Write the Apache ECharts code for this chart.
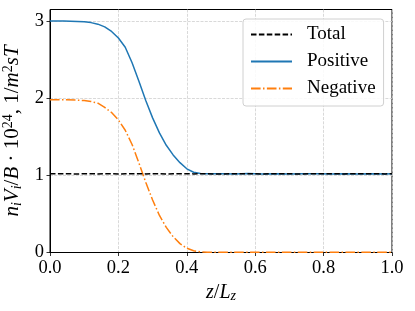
<!DOCTYPE html>
<html>
<head>
<meta charset="utf-8">
<script src="https://cdn.jsdelivr.net/npm/echarts@6/dist/echarts.min.js"></script>
<style>
html,body{margin:0;padding:0;background:#fff;}
#chart{width:415px;height:311px;}
</style>
</head>
<body>
<div id="chart"></div>
<script>
// z / L_z sample positions
var zValues = [0, 0.04, 0.08, 0.10, 0.12, 0.14, 0.16, 0.18, 0.20, 0.22, 0.24, 0.26, 0.28, 0.30, 0.32, 0.34, 0.36, 0.38, 0.40, 0.42, 0.44, 0.46, 0.50, 0.54, 0.58, 0.62, 0.66, 0.70, 0.74, 0.78, 0.82, 0.86, 0.90, 0.94, 0.98, 1.00];
var totalValues = [1.02, 1.022, 1.018, 1.021, 1.02, 1.019, 1.022, 1.02, 1.018, 1.021, 1.02, 1.022, 1.019, 1.02, 1.021, 1.018, 1.02, 1.022, 1.02, 1.019, 1.021, 1.02, 1.018, 1.022, 1.02, 1.019, 1.021, 1.02, 1.018, 1.022, 1.02, 1.019, 1.021, 1.02, 1.019, 1.02];
var positiveValues = [3.00, 3.00, 2.995, 2.99, 2.98, 2.96, 2.925, 2.865, 2.78, 2.66, 2.46, 2.22, 1.97, 1.745, 1.55, 1.39, 1.265, 1.165, 1.085, 1.04, 1.024, 1.02, 1.022, 1.017, 1.023, 1.019, 1.021, 1.018, 1.022, 1.02, 1.017, 1.022, 1.019, 1.021, 1.018, 1.02];
var negativeValues = [1.98, 1.98, 1.975, 1.97, 1.957, 1.935, 1.88, 1.815, 1.72, 1.585, 1.40, 1.16, 0.91, 0.68, 0.48, 0.325, 0.205, 0.115, 0.055, 0.022, 0.008, 0.004, 0.003, 0.004, 0.002, 0.003, 0.004, 0.003, 0.002, 0.004, 0.003, 0.003, 0.002, 0.004, 0.003, 0.003];
var seriesNames = ['Total', 'Positive', 'Negative'];
var xTicks = [0, 0.2, 0.4, 0.6, 0.8, 1.0];
var yTicks = [0, 1, 2, 3];

function pairs(vals) { return zValues.map(function (z, i) { return [z, vals[i]]; }); }

var FONT = 'Liberation Serif';
var chart = echarts.init(document.getElementById('chart'), null, {renderer: 'canvas'});
chart.setOption({
  animation: false,
  backgroundColor: '#fff',
  grid: {left: 50, right: 23, top: 9.5, bottom: 58.5, containLabel: false, outerBoundsMode: 'none',
    show: true, borderColor: '#000', borderWidth: 1, backgroundColor: 'transparent'},
  legend: {
    orient: 'vertical', left: 243, top: 19,
    padding: [6, 8, 8, 7],
    itemWidth: 41, itemHeight: 20, itemGap: 8,
    itemStyle: {opacity: 0},
    backgroundColor: 'rgba(255,255,255,0.85)', borderColor: '#d0d0d0', borderWidth: 1, borderRadius: 3,
    textStyle: {fontFamily: FONT, fontSize: 19, color: '#000', padding: [0, 0, 0, 10]},
    data: seriesNames
  },
  xAxis: {
    type: 'value', min: 0, max: 1, interval: 0.2,
    name: '{i|z}{n|/}{i|L}{s|z}', nameLocation: 'middle', nameGap: 25,
    nameTextStyle: {fontFamily: FONT, fontSize: 20, color: '#000',
      rich: {i: {fontFamily: FONT, fontStyle: 'italic', fontSize: 20}, n: {fontFamily: FONT, fontSize: 20}, s: {fontFamily: FONT, fontStyle: 'italic', fontSize: 14, padding: [8, 0, 0, 0]}}},
    axisLine: {show: true, lineStyle: {color: '#000', width: 1}},
    axisTick: {show: true, inside: false, length: 3.5, lineStyle: {color: '#000', width: 0.8}},
    axisLabel: {fontFamily: FONT, fontSize: 18.5, color: '#000', margin: 6, formatter: function (v) { return v.toFixed(1); }},
    splitLine: {show: true, lineStyle: {color: '#cfcfcf', width: 0.8, type: [3, 1.3]}}
  },
  yAxis: {
    type: 'value', min: 0, max: 3.15, interval: 1,
    name: '{i|n}{s|i}{i|V}{s|i}{n|/}{i|B}{n| · 10}{p|24}{n|, 1/}{i|m}{p|2}{i|sT}',
    nameLocation: 'middle', nameGap: 17, nameRotate: 90,
    nameTextStyle: {fontFamily: FONT, fontSize: 21, color: '#000',
      rich: {
        i: {fontFamily: FONT, fontStyle: 'italic', fontSize: 21},
        n: {fontFamily: FONT, fontSize: 21},
        s: {fontFamily: FONT, fontStyle: 'italic', fontSize: 14, padding: [9, 0, 0, 0]},
        p: {fontFamily: FONT, fontSize: 14, padding: [0, 0, 9, 0]}
      }},
    axisLine: {show: true, lineStyle: {color: '#000', width: 1}},
    axisTick: {show: true, inside: false, length: 3.5, lineStyle: {color: '#000', width: 0.8}, customValues: yTicks},
    axisLabel: {fontFamily: FONT, fontSize: 18.5, color: '#000', margin: 6, customValues: yTicks, formatter: function (v) { return String(Math.round(v)); }},
    splitLine: {show: true, lineStyle: {color: '#cfcfcf', width: 0.8, type: [3, 1.3]}}
  },
  series: [
    {name: seriesNames[0], type: 'line', data: pairs(totalValues), symbol: 'none', z: 5,
      lineStyle: {color: '#000', width: 1.5, type: [5.5, 2.4]}, itemStyle: {color: '#000'}},
    {name: seriesNames[1], type: 'line', data: pairs(positiveValues), symbol: 'none', z: 3,
      lineStyle: {color: '#1f77b4', width: 1.5}, itemStyle: {color: '#1f77b4'}},
    {name: seriesNames[2], type: 'line', data: pairs(negativeValues), symbol: 'none', z: 4,
      lineStyle: {color: '#ff7f0e', width: 1.5, type: [9.6, 2.4, 1.5, 2.4]}, itemStyle: {color: '#ff7f0e'}}
  ]
});
</script>
</body>
</html>
